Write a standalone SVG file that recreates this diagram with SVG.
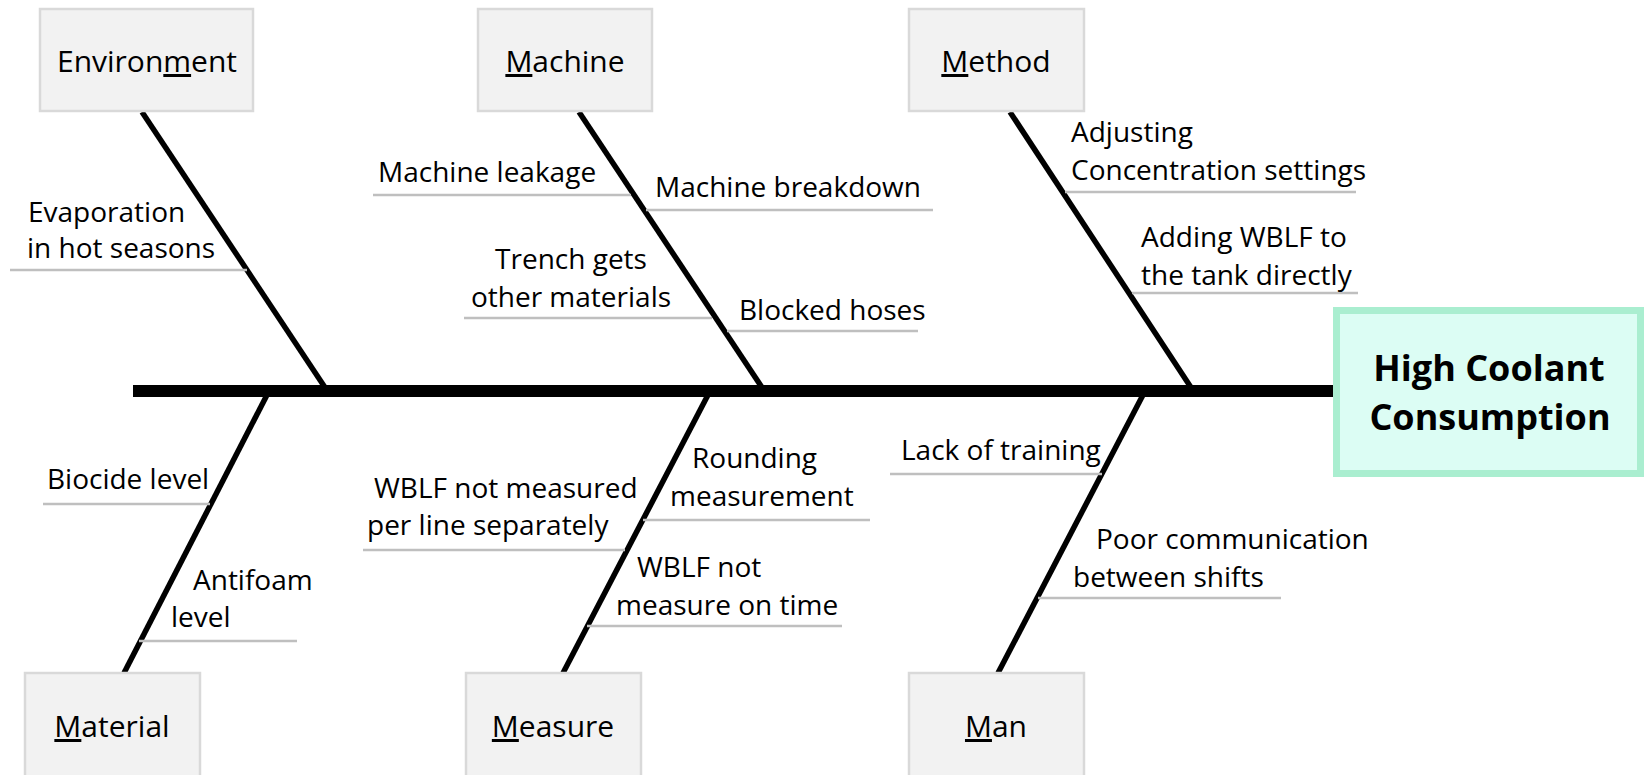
<svg xmlns="http://www.w3.org/2000/svg" width="1644" height="775" viewBox="0 0 1644 775">
  <style>
    .cat rect { fill: #f2f2f2; stroke: #d9d9d9; stroke-width: 2.5; }
    .cat text { font-family: "Open Sans", "Liberation Sans", sans-serif; font-size: 30px; fill: #000; text-anchor: middle; }
    .u { text-decoration: underline; }
    .lbl { font-family: "Open Sans", "Liberation Sans", sans-serif; font-size: 28px; fill: #000; }
    .tick { stroke: #bfbfbf; stroke-width: 2.5; fill: none; }
    .bone { stroke: #000; stroke-width: 5.5; fill: none; }
    .spine { stroke: #000; stroke-width: 12; fill: none; }
    .head rect { fill: #dcfdf4; stroke: #aaeed0; stroke-width: 7; }
    .head text { font-family: "Open Sans", "Liberation Sans", sans-serif; font-size: 36px; font-weight: bold; fill: #000; text-anchor: middle; }
  </style>

  <!-- connectors: spine, main bones, and the sub-cause tick lines -->
  <g id="connectors">
    <line class="spine" x1="133" y1="391" x2="1336" y2="391"/>
    <line class="bone" x1="142" y1="112" x2="326" y2="389"/>
    <line class="bone" x1="579" y1="112" x2="763" y2="389"/>
    <line class="bone" x1="1010" y1="112" x2="1192" y2="389"/>
    <line class="bone" x1="268" y1="393" x2="124" y2="673"/>
    <line class="bone" x1="709" y1="393" x2="563" y2="673"/>
    <line class="bone" x1="1144" y1="393" x2="998" y2="673"/>

    <line class="tick" x1="10" y1="270" x2="247" y2="270"/>
    <line class="tick" x1="373" y1="195" x2="631" y2="195"/>
    <line class="tick" x1="646" y1="210" x2="933" y2="210"/>
    <line class="tick" x1="464" y1="318" x2="712" y2="318"/>
    <line class="tick" x1="727" y1="331" x2="918" y2="331"/>
    <line class="tick" x1="1065" y1="192" x2="1356" y2="192"/>
    <line class="tick" x1="1132" y1="293" x2="1358" y2="293"/>
    <line class="tick" x1="43" y1="504" x2="210" y2="504"/>
    <line class="tick" x1="139" y1="641" x2="297" y2="641"/>
    <line class="tick" x1="363" y1="550" x2="625" y2="550"/>
    <line class="tick" x1="643" y1="520" x2="870" y2="520"/>
    <line class="tick" x1="587" y1="626" x2="842" y2="626"/>
    <line class="tick" x1="890" y1="474" x2="1102" y2="474"/>
    <line class="tick" x1="1038" y1="598" x2="1281" y2="598"/>
  </g>

  <!-- category boxes -->
  <g id="environment" class="cat">
    <rect x="40" y="9" width="213" height="102"/>
    <text x="147" y="72">Environ<tspan class="u">m</tspan>ent</text>
  </g>
  <g id="machine" class="cat">
    <rect x="478" y="9" width="174" height="102"/>
    <text x="565" y="72"><tspan class="u">M</tspan>achine</text>
  </g>
  <g id="method" class="cat">
    <rect x="909" y="9" width="175" height="102"/>
    <text x="996" y="72"><tspan class="u">M</tspan>ethod</text>
  </g>
  <g id="material" class="cat">
    <rect x="25" y="673" width="175" height="104"/>
    <text x="112" y="737"><tspan class="u">M</tspan>aterial</text>
  </g>
  <g id="measure" class="cat">
    <rect x="466" y="673" width="175" height="104"/>
    <text x="553" y="737"><tspan class="u">M</tspan>easure</text>
  </g>
  <g id="man" class="cat">
    <rect x="909" y="673" width="175" height="104"/>
    <text x="996" y="737"><tspan class="u">M</tspan>an</text>
  </g>

  <!-- effect -->
  <g id="effect" class="head">
    <rect x="1336.5" y="310.5" width="304" height="163"/>
    <text x="1489" y="381">High Coolant</text>
    <text x="1490" y="430">Consumption</text>
  </g>

  <!-- sub-causes -->
  <g id="env-causes" class="lbl">
    <text x="28" y="222">Evaporation</text>
    <text x="27" y="258">in hot seasons</text>
  </g>
  <g id="machine-causes" class="lbl">
    <text x="378" y="182">Machine leakage</text>
    <text x="655" y="197">Machine breakdown</text>
    <text x="571" y="269" text-anchor="middle">Trench gets</text>
    <text x="571" y="307" text-anchor="middle">other materials</text>
    <text x="739" y="320">Blocked hoses</text>
  </g>
  <g id="method-causes" class="lbl">
    <text x="1071" y="142">Adjusting</text>
    <text x="1071" y="180">Concentration settings</text>
    <text x="1141" y="247">Adding WBLF to</text>
    <text x="1141" y="285">the tank directly</text>
  </g>
  <g id="material-causes" class="lbl">
    <text x="47" y="489">Biocide level</text>
    <text x="193" y="590">Antifoam</text>
    <text x="171" y="627">level</text>
  </g>
  <g id="measure-causes" class="lbl">
    <text x="374" y="498">WBLF not measured</text>
    <text x="367" y="535">per line separately</text>
    <text x="692" y="468">Rounding</text>
    <text x="670" y="506">measurement</text>
    <text x="637" y="577">WBLF not</text>
    <text x="616" y="615">measure on time</text>
  </g>
  <g id="man-causes" class="lbl">
    <text x="901" y="460">Lack of training</text>
    <text x="1096" y="549">Poor communication</text>
    <text x="1073" y="587">between shifts</text>
  </g>
</svg>
